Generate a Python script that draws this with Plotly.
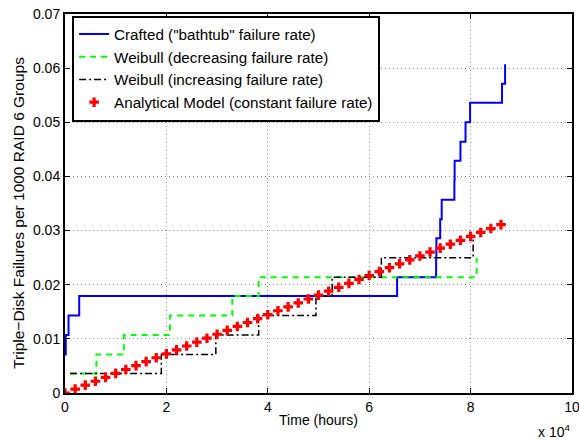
import plotly.graph_objects as go

# Crafted ("bathtub") step data
crafted_t = [0, 150, 700, 2800, 65500, 73200, 73250, 74000, 74300, 76800, 76850, 78000, 79000, 79900, 86200, 86800]
crafted_y = [0.0071, 0.0107, 0.0143, 0.0179, 0.0214, 0.0250, 0.0286, 0.0321, 0.0357, 0.0393, 0.0429, 0.0464, 0.0500, 0.0536, 0.0571, 0.0607]

# Weibull (decreasing failure rate)
wdec_t = [1000, 6200, 11600, 20700, 33000, 38200, 81200]
wdec_y = [0.0036, 0.0071, 0.0107, 0.0143, 0.0179, 0.0214, 0.0250]

# Weibull (increasing failure rate)
winc_t = [1000, 19000, 29750, 38200, 49500, 52700, 62400, 80500]
winc_y = [0.0036, 0.0071, 0.0107, 0.0143, 0.0179, 0.0214, 0.0250, 0.0286]

# Analytical model (constant failure rate)
anal_t = [0, 2000, 4000, 6000, 8000, 10000, 12000, 14000, 16000, 18000, 20000,
          22000, 24000, 26000, 28000, 30000, 32000, 34000, 36000, 38000, 40000,
          42000, 44000, 46000, 48000, 50000, 52000, 54000, 56000, 58000, 60000,
          62000, 64000, 66000, 68000, 70000, 72000, 74000, 76000, 78000, 80000,
          82000, 84000, 86000]
anal_y = [0.0, 0.00072, 0.00145, 0.00217, 0.00289, 0.00362, 0.00434, 0.00506, 0.00579, 0.00651, 0.00723,
          0.00796, 0.00868, 0.00940, 0.01012, 0.01085, 0.01157, 0.01229, 0.01302, 0.01374, 0.01446,
          0.01519, 0.01591, 0.01663, 0.01736, 0.01808, 0.01880, 0.01952, 0.02025, 0.02097, 0.02169,
          0.02242, 0.02314, 0.02386, 0.02459, 0.02531, 0.02603, 0.02676, 0.02748, 0.02820, 0.02892,
          0.02965, 0.03037, 0.03109]

x_tickvals = [0, 20000, 40000, 60000, 80000, 100000]
x_ticktext = ["0", "2", "4", "6", "8", "10"]
y_tickvals = [0, 0.01, 0.02, 0.03, 0.04, 0.05, 0.06, 0.07]
y_ticktext = ["0", "0.01", "0.02", "0.03", "0.04", "0.05", "0.06", "0.07"]

FONT = "Liberation Sans, Arial, Helvetica, sans-serif"

fig = go.Figure()
fig.add_trace(go.Scatter(x=crafted_t, y=crafted_y, mode="lines", line_shape="hv",
                         line=dict(color="#0000ff", width=2),
                         name='Crafted ("bathtub" failure rate)'))
fig.add_trace(go.Scatter(x=wdec_t, y=wdec_y, mode="lines", line_shape="hv",
                         line=dict(color="#00ff00", width=2, dash="6px,5px"),
                         name="Weibull (decreasing failure rate)"))
fig.add_trace(go.Scatter(x=winc_t, y=winc_y, mode="lines", line_shape="hv",
                         line=dict(color="#000000", width=1.5, dash="7px,3px,2px,3px"),
                         name="Weibull (increasing failure rate)"))
fig.add_trace(go.Scatter(x=anal_t, y=anal_y, mode="markers",
                         marker=dict(symbol="cross", color="#ff0000", size=8, line=dict(width=0)),
                         name="Analytical Model (constant failure rate)"))

fig.update_layout(
    width=579, height=440,
    margin=dict(l=65, r=7, t=14, b=47),
    paper_bgcolor="white", plot_bgcolor="white",
    font=dict(family=FONT, color="black", size=14),
    showlegend=True,
    legend=dict(x=0.014, y=0.996, xanchor="left", yanchor="top",
                bgcolor="white", bordercolor="black", borderwidth=2,
                font=dict(size=15.2, family=FONT), itemwidth=30,
                tracegroupgap=0),
    xaxis=dict(range=[0, 100000], tickvals=x_tickvals, ticktext=x_ticktext,
               ticks="inside", ticklen=5, tickwidth=1, tickcolor="black",
               showline=True, linecolor="black", linewidth=2, mirror="ticks",
               showgrid=True, gridcolor="#8a8a8a", gridwidth=1, griddash="1px,3px",
               zeroline=False, tickfont=dict(size=14), automargin=False,
               ticklabeloverflow="allow",
               title=dict(text="Time (hours)", font=dict(size=14), standoff=1)),
    yaxis=dict(range=[0, 0.07], tickvals=y_tickvals, ticktext=y_ticktext,
               ticks="inside", ticklen=5, tickwidth=1, tickcolor="black",
               showline=True, linecolor="black", linewidth=2, mirror="ticks",
               showgrid=True, gridcolor="#8a8a8a", gridwidth=1, griddash="1px,3px",
               zeroline=False, tickfont=dict(size=14), automargin=False,
               ticklabeloverflow="allow"),
    annotations=[
        dict(text="x 10<sup>4</sup>", xref="paper", yref="paper",
             x=1.0, y=-0.07, xanchor="right", yanchor="top",
             showarrow=False, font=dict(size=14, family=FONT)),
        dict(text="Triple\u2212Disk Failures per 1000 RAID 6 Groups", xref="paper", yref="paper",
             x=-0.0906, y=0.4756, xanchor="center", yanchor="middle", textangle=-90,
             showarrow=False, font=dict(size=15.5, family=FONT)),
    ],
)

fig.write_html("out.html")
